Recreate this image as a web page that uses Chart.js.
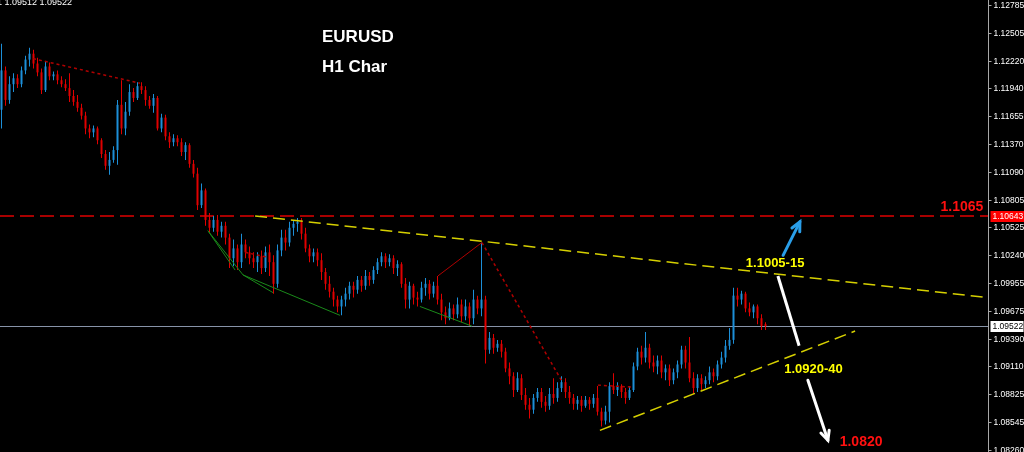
<!DOCTYPE html>
<html>
<head>
<meta charset="utf-8">
<script src="https://cdn.jsdelivr.net/npm/chart.js@4.4.1/dist/chart.umd.min.js"></script>
<style>
html, body { margin: 0; padding: 0; background: #000; overflow: hidden; }
#wrap { width: 1024px; height: 452px; position: relative; }
</style>
</head>
<body>
<div id="wrap"><canvas id="c" width="1024" height="452"></canvas></div>
<script>
// EURUSD H1 candles (one candle every 4px)
const opens = [
  1.1172,1.1212,1.1182,1.1198,1.1204,1.1198,1.1212,1.1223,1.1229,1.1219,
  1.1210,1.1192,1.1216,1.1206,1.1208,1.1202,1.1198,1.1194,1.1186,1.1180,
  1.1174,1.1166,1.1153,1.1149,1.1153,1.1141,1.1127,1.1115,1.1121,1.1131,
  1.1177,1.1153,1.1170,1.1190,1.1184,1.1196,1.1192,1.1182,1.1176,1.1184,
  1.1153,1.1164,1.1145,1.1139,1.1143,1.1139,1.1129,1.1136,1.1117,1.1107,
  1.1075,1.1090,1.1060,1.1052,1.1060,1.1048,1.1054,1.1042,1.1021,1.1031,
  1.1017,1.1035,1.1027,1.1021,1.1017,1.1023,1.1011,1.1027,1.1017,1.0995,
  1.1029,1.1042,1.1037,1.1052,1.1056,1.1058,1.1046,1.1031,1.1023,1.1027,
  1.1019,1.1007,1.0995,1.0987,1.0979,1.0972,1.0979,1.0985,1.0993,1.0989,
  1.0999,1.0993,1.1003,1.0999,1.1009,1.1017,1.1023,1.1017,1.1021,1.1011,
  1.1015,1.0995,1.0979,1.0993,1.0981,1.0979,1.0991,1.0995,1.0985,1.0993,
  1.0979,1.0966,1.0960,1.0970,1.0964,1.0974,1.0962,1.0972,1.0960,1.0979,
  1.0970,1.0979,1.0928,1.0940,1.0930,1.0934,1.0926,1.0909,1.0901,1.0887,
  1.0899,1.0882,1.0872,1.0867,1.0879,1.0885,1.0875,1.0871,1.0883,1.0879,
  1.0889,1.0895,1.0885,1.0879,1.0873,1.0877,1.0871,1.0877,1.0873,1.0879,
  1.0865,1.0856,1.0865,1.0891,1.0887,1.0891,1.0885,1.0879,1.0887,1.0911,
  1.0926,1.0920,1.0930,1.0915,1.0911,1.0917,1.0905,1.0909,1.0897,1.0905,
  1.0913,1.0928,1.0915,1.0899,1.0889,1.0899,1.0893,1.0897,1.0905,1.0901,
  1.0913,1.0920,1.0932,1.0938,1.0983,1.0979,1.0985,1.0970,1.0966,1.0972,
  1.0960,1.0954
];
const highs = [
  1.1239,1.1216,1.1206,1.1209,1.1208,1.1216,1.1227,1.1235,1.1233,1.1225,
  1.1214,1.1221,1.1220,1.1211,1.1212,1.1206,1.1203,1.1209,1.1192,1.1187,
  1.1178,1.1170,1.1157,1.1156,1.1155,1.1143,1.1131,1.1129,1.1135,1.1182,
  1.1202,1.1180,1.1198,1.1194,1.1200,1.1200,1.1196,1.1186,1.1188,1.1186,
  1.1168,1.1167,1.1149,1.1147,1.1146,1.1143,1.1139,1.1138,1.1121,1.1113,
  1.1097,1.1092,1.1067,1.1064,1.1065,1.1058,1.1058,1.1046,1.1040,1.1035,
  1.1046,1.1040,1.1033,1.1027,1.1027,1.1029,1.1033,1.1035,1.1024,1.1035,
  1.1050,1.1050,1.1058,1.1060,1.1062,1.1062,1.1052,1.1035,1.1031,1.1031,
  1.1026,1.1011,1.1003,1.0991,1.0983,1.0983,1.0991,1.0997,1.0997,1.1003,
  1.1003,1.1009,1.1007,1.1013,1.1021,1.1027,1.1026,1.1025,1.1024,1.1019,
  1.1017,1.1001,1.0997,1.0995,1.0987,1.0997,1.1001,1.0999,1.0997,1.1003,
  1.0985,1.0972,1.0976,1.0974,1.0981,1.0979,1.0979,1.0976,1.0989,1.0983,
  1.1037,1.0983,1.0946,1.0944,1.0938,1.0938,1.0930,1.0915,1.0905,1.0905,
  1.0903,1.0889,1.0879,1.0883,1.0889,1.0889,1.0881,1.0889,1.0899,1.0895,
  1.0901,1.0899,1.0891,1.0883,1.0881,1.0881,1.0881,1.0880,1.0883,1.0891,
  1.0869,1.0871,1.0895,1.0904,1.0895,1.0893,1.0889,1.0891,1.0915,1.0930,
  1.0932,1.0946,1.0934,1.0922,1.0922,1.0922,1.0913,1.0913,1.0909,1.0917,
  1.0932,1.0932,1.0941,1.0905,1.0903,1.0903,1.0901,1.0911,1.0909,1.0917,
  1.0926,1.0938,1.0950,1.0991,1.0991,1.0988,1.0987,1.0976,1.0974,1.0974,
  1.0964,1.0956
];
const lows = [
  1.1153,1.1176,1.1178,1.1190,1.1194,1.1195,1.1208,1.1216,1.1214,1.1206,
  1.1188,1.1190,1.1202,1.1202,1.1198,1.1195,1.1191,1.1180,1.1176,1.1170,
  1.1162,1.1147,1.1143,1.1144,1.1137,1.1123,1.1111,1.1106,1.1118,1.1116,
  1.1147,1.1146,1.1166,1.1180,1.1182,1.1188,1.1176,1.1173,1.1169,1.1151,
  1.1149,1.1141,1.1133,1.1135,1.1135,1.1125,1.1121,1.1113,1.1103,1.1070,
  1.1072,1.1054,1.1047,1.1048,1.1044,1.1042,1.1035,1.1011,1.1013,1.1009,
  1.1011,1.1021,1.1015,1.1011,1.1007,1.1005,1.1007,1.1003,1.0985,1.0991,
  1.1023,1.1029,1.1033,1.1044,1.1048,1.1040,1.1027,1.1017,1.1017,1.1013,
  1.0999,1.0989,1.0981,1.0972,1.0966,1.0963,1.0972,1.0979,1.0981,1.0985,
  1.0987,1.0989,1.0993,1.0995,1.1005,1.1013,1.1011,1.1013,1.1005,1.1003,
  1.0991,1.0970,1.0970,1.0974,1.0972,1.0976,1.0983,1.0979,1.0981,1.0974,
  1.0958,1.0954,1.0958,1.0958,1.0960,1.0956,1.0958,1.0952,1.0954,1.0964,
  1.0962,1.0914,1.0924,1.0924,1.0926,1.0920,1.0905,1.0893,1.0880,1.0885,
  1.0877,1.0867,1.0858,1.0863,1.0875,1.0869,1.0865,1.0867,1.0873,1.0875,
  1.0885,1.0879,1.0873,1.0867,1.0867,1.0865,1.0869,1.0867,1.0869,1.0861,
  1.0850,1.0852,1.0854,1.0883,1.0881,1.0879,1.0873,1.0877,1.0885,1.0907,
  1.0913,1.0915,1.0909,1.0905,1.0903,1.0899,1.0897,1.0891,1.0893,1.0899,
  1.0909,1.0909,1.0895,1.0883,1.0885,1.0887,1.0889,1.0893,1.0895,1.0897,
  1.0909,1.0915,1.0928,1.0934,1.0972,1.0974,1.0966,1.0962,1.0960,1.0954,
  1.0948,1.0948
];
const closes = [
  1.1212,1.1182,1.1198,1.1204,1.1198,1.1212,1.1223,1.1229,1.1219,1.1210,
  1.1192,1.1216,1.1206,1.1208,1.1202,1.1198,1.1194,1.1186,1.1180,1.1174,
  1.1166,1.1153,1.1149,1.1153,1.1141,1.1127,1.1115,1.1121,1.1131,1.1177,
  1.1153,1.1170,1.1190,1.1184,1.1196,1.1192,1.1182,1.1176,1.1184,1.1153,
  1.1164,1.1145,1.1139,1.1143,1.1139,1.1129,1.1136,1.1117,1.1107,1.1075,
  1.1090,1.1060,1.1052,1.1060,1.1048,1.1054,1.1042,1.1021,1.1031,1.1017,
  1.1035,1.1027,1.1021,1.1017,1.1023,1.1011,1.1027,1.1017,1.0995,1.1029,
  1.1042,1.1037,1.1052,1.1056,1.1058,1.1046,1.1031,1.1023,1.1027,1.1019,
  1.1007,1.0995,1.0987,1.0979,1.0972,1.0979,1.0985,1.0993,1.0989,1.0999,
  1.0993,1.1003,1.0999,1.1009,1.1017,1.1023,1.1017,1.1021,1.1011,1.1015,
  1.0995,1.0979,1.0993,1.0981,1.0979,1.0991,1.0995,1.0985,1.0993,1.0979,
  1.0966,1.0960,1.0970,1.0964,1.0974,1.0962,1.0972,1.0960,1.0979,1.0970,
  1.0979,1.0928,1.0940,1.0930,1.0934,1.0926,1.0909,1.0901,1.0887,1.0899,
  1.0882,1.0872,1.0867,1.0879,1.0885,1.0875,1.0871,1.0883,1.0879,1.0889,
  1.0895,1.0885,1.0879,1.0873,1.0877,1.0871,1.0877,1.0873,1.0879,1.0865,
  1.0856,1.0865,1.0891,1.0887,1.0891,1.0885,1.0879,1.0887,1.0911,1.0926,
  1.0920,1.0930,1.0915,1.0911,1.0917,1.0905,1.0909,1.0897,1.0905,1.0913,
  1.0928,1.0915,1.0899,1.0889,1.0899,1.0893,1.0897,1.0905,1.0901,1.0913,
  1.0920,1.0932,1.0938,1.0983,1.0979,1.0985,1.0970,1.0966,1.0972,1.0960,
  1.0952,1.0952
];

// price axis labels (MT4 style)
const priceTicks = [1.12785, 1.12505, 1.1222, 1.1194, 1.11655, 1.1137, 1.1109, 1.10805,
  1.10525, 1.1024, 1.09955, 1.09675, 1.0939, 1.0911, 1.08825, 1.08545, 1.0826];
const resistLevel = 1.10643;
const lastBid = 1.09522;

// drawn objects, as [candleIdx1, price1, candleIdx2, price2]
const yellowLines = [[63.4, 1.1064, 246.6, 1.0981], [149.6, 1.0846, 213.4, 1.0947]];
const greenLines = [[51.6, 1.1049, 58.4, 1.1009], [51.6, 1.1049, 60.4, 1.1004], [60.4, 1.1004, 67.9, 1.0986],
  [60.4, 1.1004, 84.6, 1.0963], [104.6, 1.0972, 117.6, 1.0952]];
const redDotted = [[7.9, 1.1224, 34.6, 1.1199], [120.1, 1.1037, 140.1, 1.0896],
  [60.9, 1.1027, 66.6, 1.1022], [149.1, 1.0892, 157.6, 1.0890]];
const redSolid = [[109.1, 1.1003, 120.1, 1.1037]];
const upArrow = [195.4, 1.1024, 199.6, 1.1058];
const downLine = [194.1, 1.1003, 199.4, 1.0932];
const downArrow = [201.6, 1.0897, 206.6, 1.0836];

const noteText = ["1.1005-15", "1.0920-40", "1.0820", "1.1065"];
const noteIdx = [193.4, 203.0, 214.9, 240.1];
const notePrice = [1.1016, 1.0908, 1.0834, 1.1073];

const BULL = "#1c8fd8";
const BEAR = "#e00000";

const candleColors = closes.map((c, i) => c >= opens[i] ? BULL : BEAR);

function toPx(chart, i, p) {
  return [chart.scales.x.getPixelForValue(i), chart.scales.y.getPixelForValue(p)];
}

function drawSeg(chart, s) {
  const ctx = chart.ctx;
  const a = toPx(chart, s[0], s[1]);
  const b = toPx(chart, s[2], s[3]);
  ctx.beginPath();
  ctx.moveTo(a[0], a[1]);
  ctx.lineTo(b[0], b[1]);
  ctx.stroke();
  return [a, b];
}

function drawArrow(chart, s, color) {
  const ctx = chart.ctx;
  ctx.save();
  ctx.strokeStyle = color;
  ctx.lineWidth = 3;
  ctx.lineCap = "round";
  const [a, b] = drawSeg(chart, s);
  const ang = Math.atan2(b[1] - a[1], b[0] - a[0]);
  ctx.beginPath();
  ctx.moveTo(b[0] - 10 * Math.cos(ang - 0.45), b[1] - 10 * Math.sin(ang - 0.45));
  ctx.lineTo(b[0], b[1]);
  ctx.lineTo(b[0] - 10 * Math.cos(ang + 0.45), b[1] - 10 * Math.sin(ang + 0.45));
  ctx.stroke();
  ctx.restore();
}

const mt4Overlay = {
  id: "mt4Overlay",
  beforeDatasetsDraw(chart) {
    const { ctx, chartArea } = chart;
    const yS = chart.scales.y;
    ctx.save();
    // red resistance line
    ctx.strokeStyle = "#a80000";
    ctx.lineWidth = 2;
    ctx.setLineDash([14, 6]);
    let yy = Math.round(yS.getPixelForValue(resistLevel));
    ctx.beginPath();
    ctx.moveTo(chartArea.left, yy);
    ctx.lineTo(chartArea.right, yy);
    ctx.stroke();
    // bid line
    ctx.setLineDash([]);
    ctx.strokeStyle = "#8793a8";
    ctx.lineWidth = 1;
    yy = Math.round(yS.getPixelForValue(lastBid)) + 0.5;
    ctx.beginPath();
    ctx.moveTo(chartArea.left, yy);
    ctx.lineTo(chartArea.right, yy);
    ctx.stroke();
    ctx.restore();
  },
  afterDatasetsDraw(chart) {
    const { ctx, chartArea } = chart;
    const yS = chart.scales.y;
    ctx.save();

    ctx.lineWidth = 1;
    ctx.strokeStyle = "#1a8a1a";
    greenLines.forEach(s => drawSeg(chart, s));

    ctx.strokeStyle = "#b00000";
    redSolid.forEach(s => drawSeg(chart, s));
    ctx.lineWidth = 1.5;
    ctx.setLineDash([3, 3]);
    redDotted.forEach(s => drawSeg(chart, s));

    ctx.strokeStyle = "#d6d000";
    ctx.lineWidth = 1.5;
    ctx.setLineDash([12, 6]);
    yellowLines.forEach(s => drawSeg(chart, s));
    ctx.setLineDash([]);

    drawArrow(chart, upArrow, "#2a9ee8");
    ctx.strokeStyle = "#ffffff";
    ctx.lineWidth = 3;
    drawSeg(chart, downLine);
    drawArrow(chart, downArrow, "#ffffff");

    // notes
    ctx.textAlign = "center";
    ctx.textBaseline = "middle";
    noteText.forEach((t, i) => {
      const [x, y] = toPx(chart, noteIdx[i], notePrice[i]);
      ctx.font = (i < 2 ? "bold 13px" : "bold 14px") + " 'Liberation Sans', Arial, sans-serif";
      ctx.fillStyle = i < 2 ? "#ffff00" : "#ff1010";
      ctx.fillText(t, x, y);
    });

    // title
    ctx.textAlign = "left";
    ctx.textBaseline = "alphabetic";
    ctx.fillStyle = "#ffffff";
    ctx.font = "bold 17px 'Liberation Sans', Arial, sans-serif";
    ctx.fillText("EURUSD", 322, 42);
    ctx.fillText("H1 Char", 322, 72);

    // top-left quote line
    ctx.font = "9px 'Liberation Sans', Arial, sans-serif";
    ctx.fillText("1 1.09512 1.09522", -3, 5);

    // right price axis
    const ax = chartArea.right + 0.5;
    ctx.strokeStyle = "#a8a8a8";
    ctx.lineWidth = 1;
    ctx.beginPath();
    ctx.moveTo(ax, 0);
    ctx.lineTo(ax, chart.height);
    ctx.stroke();
    ctx.font = "8.5px 'Liberation Sans', Arial, sans-serif";
    ctx.textBaseline = "middle";
    priceTicks.forEach(v => {
      const y = Math.round(yS.getPixelForValue(v)) + 0.5;
      ctx.beginPath();
      ctx.moveTo(ax, y);
      ctx.lineTo(ax + 3, y);
      ctx.stroke();
      ctx.fillStyle = "#ffffff";
      ctx.fillText(v.toFixed(5), ax + 5, y);
    });

    // price boxes
    let y = yS.getPixelForValue(resistLevel);
    ctx.fillStyle = "#ff0000";
    ctx.fillRect(ax + 2, Math.round(y) - 5, 35, 11);
    ctx.fillStyle = "#ffffff";
    ctx.fillText(resistLevel.toFixed(5), ax + 4, Math.round(y) + 0.5);
    y = yS.getPixelForValue(lastBid);
    ctx.fillStyle = "#ffffff";
    ctx.fillRect(ax + 2, Math.round(y) - 5, 33, 11);
    ctx.fillStyle = "#000000";
    ctx.fillText(lastBid.toFixed(5), ax + 4, Math.round(y) + 0.5);

    ctx.restore();
  }
};

const idx = opens.map((_, i) => i);

new Chart(document.getElementById("c"), {
  type: "bar",
  data: {
    datasets: [
      {
        label: "wick",
        data: idx.map(i => ({ x: i, y: [lows[i], highs[i]] })),
        backgroundColor: candleColors,
        barThickness: 1,
        grouped: false,
        borderWidth: 0,
        inflateAmount: 0,
        order: 2
      },
      {
        label: "body",
        data: idx.map(i => ({ x: i, y: [opens[i], closes[i]] })),
        backgroundColor: candleColors,
        barThickness: 2,
        grouped: false,
        borderWidth: 0,
        inflateAmount: 0,
        minBarLength: 1,
        order: 1
      }
    ]
  },
  options: {
    responsive: false,
    animation: false,
    devicePixelRatio: 1,
    events: [],
    layout: { padding: { left: 0, right: 36, top: 0, bottom: 0 } },
    scales: {
      x: { type: "linear", min: -0.375, max: 246.625, offset: false, display: false },
      y: { type: "linear", min: 1.0824, max: 1.12836, display: false }
    },
    plugins: {
      legend: { display: false },
      tooltip: { enabled: false }
    }
  },
  plugins: [mt4Overlay]
});
</script>
</body>
</html>
